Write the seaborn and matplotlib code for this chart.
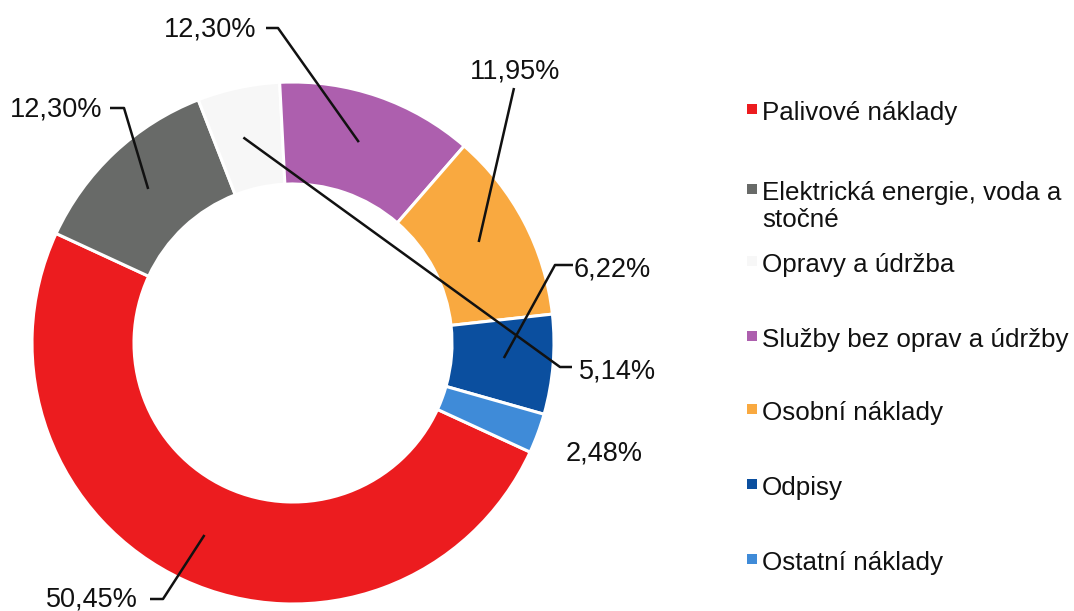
import matplotlib
matplotlib.use("Agg")
import matplotlib.pyplot as plt
import seaborn as sns
import numpy as np
from matplotlib.patches import Rectangle

# ---- data ----
categories = ["Palivové náklady", "Elektrická energie, voda a\nstočné", "Opravy a údržba",
              "Služby bez oprav a údržby", "Osobní náklady", "Odpisy", "Ostatní náklady"]
values = [50.45, 12.30, 5.14, 12.30, 11.95, 6.22, 2.48]
value_labels = ["50,45%", "12,30%", "5,14%", "12,30%", "11,95%", "6,22%", "2,48%"]
colors = ["#ec1c1f", "#686a68", "#f7f7f7", "#ad5fae", "#f9a940", "#0b4f9f", "#3f8bd8"]

sns.set_theme(style="white")
plt.rcParams['font.family'] = ['Liberation Sans', 'DejaVu Sans']
palette = sns.color_palette(colors)

W, H = 1074, 611
fig = plt.figure(figsize=(W / 100, H / 100), dpi=100)
ax = fig.add_axes([0, 0, 1, 1])

# layout (pixel coords, y measured from top)
cx, cy_top = 293, 343
R, ring = 261, 102
wedges, _ = ax.pie(values, colors=palette, startangle=-24.7, counterclock=False,
                   radius=R, center=(cx, H - cy_top),
                   wedgeprops=dict(width=ring, edgecolor='white', linewidth=2.2))
ax.set_xlim(0, W)
ax.set_ylim(0, H)
ax.set_aspect('equal')
ax.axis('off')

# label layout: text x, text baseline y, ha, leader elbow points, anchor fraction, anchor radius ratio
label_layout = [
    (138, 607, 'right', [(150, 599), (163, 599)], 0.5, 0.81),
    (102, 117, 'right', [(110, 108), (124, 108)], 0.5, 0.81),
    (579, 378, 'left', [(572, 367), (560, 367)], 0.42, 0.81),
    (256, 37, 'right', [(266, 28), (278, 28)], 0.48, 0.81),
    (515, 78, 'center', [(514, 88)], 0.48, 0.81),
    (574, 277, 'left', [(573, 265), (555, 265)], 0.47, 0.81),
    (566, 460, 'left', None, 0.5, 0.81),
]

label_fs = 19.5
for w, lab, (tx, ty, ha, pts, frac, rr) in zip(wedges, value_labels, label_layout):
    ax.text(tx, H - ty, lab, ha=ha, va='baseline', fontsize=label_fs, color='#111111')
    if pts is None:
        continue
    t1, t2 = w.theta1, w.theta2
    ang = np.deg2rad(t2 - frac * (t2 - t1))  # clockwise wedges: theta2 is start
    ax_x = cx + rr * R * np.cos(ang)
    ax_y = (H - cy_top) + rr * R * np.sin(ang)
    xs = [p[0] for p in pts] + [ax_x]
    ys = [H - p[1] for p in pts] + [ax_y]
    ax.plot(xs, ys, color='#111111', lw=1.8, solid_capstyle='butt')

# legend (manual, to match entry spacing)
legend_baselines = [120, 200, 272, 347, 420, 495, 570]
legend_fs = 18.7
for name, col, b in zip(categories, palette, legend_baselines):
    ax.add_patch(Rectangle((752 - 5, H - (b - 11.5) - 5), 10, 10, facecolor=col,
                           edgecolor='none'))
    for j, line in enumerate(name.split("\n")):
        ax.text(762, H - (b + 27 * j), line, ha='left', va='baseline',
                fontsize=legend_fs, color='#111111')

fig.savefig("out.png", dpi=100, facecolor='white')
